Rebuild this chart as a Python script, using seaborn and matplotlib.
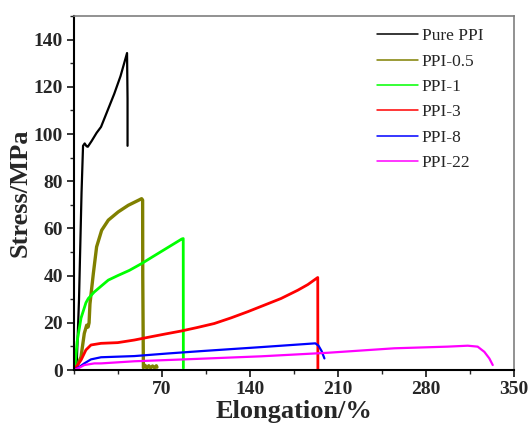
import matplotlib
matplotlib.use("Agg")
import matplotlib.pyplot as plt
import seaborn as sns
import pandas as pd
from matplotlib.lines import Line2D
from matplotlib.ticker import MultipleLocator

# ---- data ----
pure_x = [2.0, 4.0, 6.0, 7.2, 8.5, 10.0, 11.0, 14.0, 18.0, 21.5, 26.0, 32.0, 37.0, 42.2, 42.6, 42.6]
pure_y = [0.0, 30.0, 75.0, 95.0, 96.0, 94.8, 94.6, 97.0, 100.5, 103.0, 109.0, 117.0, 124.5, 134.3, 115.0, 95.0]

p05_x = [0.5, 1.6, 5.6, 8.2, 10.1, 11.2, 12.0, 12.7, 15.4, 18.0, 22.0, 27.3, 35.2, 43.2, 51.2, 53.8, 54.6,
         54.7, 55.2, 56.5, 58.0, 59.5, 61.0, 62.5, 64.0, 65.5, 66.0]
p05_y = [0.0, 0.5, 5.6, 15.5, 19.0, 18.2, 20.0, 28.0, 40.9, 52.2, 59.2, 63.5, 67.0, 69.8, 71.9, 72.6, 72.0,
         40.0, 1.0, 2.0, 0.8, 1.8, 0.9, 1.7, 1.0, 1.8, 1.2]

p1_x = [0.5, 2.5, 5.6, 9.5, 11.4, 16.0, 21.5, 27.3, 34.8, 44.0, 53.8, 62.0, 70.0, 78.0, 85.7, 86.9, 87.0]
p1_y = [0.0, 12.0, 22.0, 28.5, 30.3, 33.0, 35.5, 38.1, 40.0, 42.2, 45.1, 47.8, 50.4, 53.0, 55.5, 55.7, 0.8]

p3_x = [0.0, 5.6, 9.5, 13.5, 21.5, 34.8, 48.0, 61.3, 73.0, 85.1, 98.0, 111.6, 125.0, 138.2, 151.0, 164.7, 178.0,
        186.0, 193.9, 194.0]
p3_y = [0.0, 4.2, 8.5, 10.6, 11.3, 11.6, 12.7, 14.1, 15.3, 16.5, 18.0, 19.7, 22.1, 24.7, 27.4, 30.3, 33.8,
        36.2, 39.2, 0.3]

p8_x = [0.0, 4.0, 8.2, 13.5, 21.5, 48.0, 74.5, 101.0, 148.8, 192.0, 194.5, 197.0, 199.2]
p8_y = [0.0, 1.2, 2.8, 4.5, 5.4, 5.9, 7.0, 8.0, 9.7, 11.3, 10.3, 8.0, 4.9]

p22_x = [0.0, 4.0, 8.2, 16.2, 21.5, 48.0, 87.7, 148.8, 201.8, 254.8, 297.2, 313.2, 321.1, 326.4, 330.4, 333.1]
p22_y = [0.0, 0.9, 2.1, 2.8, 2.8, 3.7, 4.5, 5.8, 7.3, 9.2, 9.9, 10.3, 9.9, 7.7, 4.9, 2.1]

labels = ["Pure PPI", "PPI-0.5", "PPI-1", "PPI-3", "PPI-8", "PPI-22"]
colors = ["#000000", "#808000", "#00FF00", "#FF0000", "#0000FF", "#FF00FF"]
xticks = [70, 140, 210, 280, 350]
yticks = [0, 20, 40, 60, 80, 100, 120, 140]

series = [(pure_x, pure_y), (p05_x, p05_y), (p1_x, p1_y), (p3_x, p3_y), (p8_x, p8_y), (p22_x, p22_y)]
widths = [1.6, 2.4, 2.0, 2.0, 1.6, 1.6]

sns.set_style("ticks")
plt.rcParams['font.family'] = ['Liberation Serif', 'DejaVu Serif']

fig = plt.figure(figsize=(5.3, 4.28), dpi=100)
ax = fig.add_axes([0.1396, 0.1355, 0.8302, 0.8271])

for (xs, ys), lab, col, lw in zip(series, labels, colors, widths):
    df = pd.DataFrame({"x": xs, "y": ys})
    sns.lineplot(data=df, x="x", y="y", sort=False, estimator=None, color=col, linewidth=lw, ax=ax, legend=False)

ax.set_xlim(0, 350)
ax.set_ylim(0, 150)
ax.set_xticks(xticks)
ax.set_yticks(yticks)
ax.xaxis.set_minor_locator(MultipleLocator(35))
ax.yaxis.set_minor_locator(MultipleLocator(10))
ax.tick_params(axis='both', which='major', direction='out', length=5, width=1.3, labelsize=14, pad=3)
ax.tick_params(axis='both', which='minor', direction='out', length=3, width=1.0)
for lbl in ax.get_xticklabels() + ax.get_yticklabels():
    lbl.set_fontweight('bold')

ax.set_xlabel("Elongation/%", fontsize=19, fontweight='bold', labelpad=1)
ax.set_ylabel("Stress/MPa", fontsize=19, fontweight='bold', labelpad=1)

for s in ['left', 'bottom']:
    ax.spines[s].set_color('black')
    ax.spines[s].set_linewidth(1.5)
for s in ['top', 'right']:
    ax.spines[s].set_visible(True)
    ax.spines[s].set_color('#7f7f7f')
    ax.spines[s].set_linewidth(1.2)

handles = [Line2D([0], [0], color=c, linewidth=1.1) for c in colors]
leg = ax.legend(handles, labels, loc='upper left', bbox_to_anchor=(0.66, 1.0), frameon=False,
                fontsize=12.5, handlelength=2.4, handletextpad=0.2, labelspacing=0.53, borderaxespad=0.3)

fig.savefig("out.png", dpi=100)
